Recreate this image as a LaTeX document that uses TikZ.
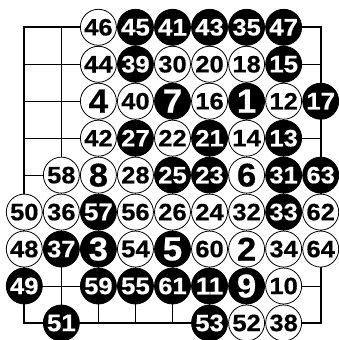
\documentclass[tikz,border=0pt]{standalone}
\usepackage{fontspec}
\setmainfont{Liberation Sans}
\newfontfamily\stonefont{Liberation Sans}[BoldFeatures={FakeBold=0.5}]
\newcommand\stonenum[1]{\stonefont\bfseries\ifnum#1<10 \scalebox{1.05}[1]{\resizebox{!}{23pt}{#1}}\else\scalebox{1.08}[1]{\resizebox{!}{16.5pt}{#1}}\fi}
\begin{document}
\begin{tikzpicture}[x=1pt,y=-1pt,
  stone/.style={circle, minimum size=36pt, inner sep=0pt, line width=0.8pt, draw=black},
  bst/.style={stone, fill=black, text=white},
  wst/.style={stone, fill=white, text=black},
  gridline/.style={line width=0.8pt, black},
  border/.style={line width=1.8pt, black}]
\useasboundingbox (0,0) rectangle (338,340);
\begin{scope}[shift={(24.3pt,-27.3pt)}, x=37.05pt, y=-36.96pt]
  \foreach \i in {1,...,7} {
    \draw[gridline] (\i,0) -- (\i,8);
    \draw[gridline] (0,\i) -- (8,\i);
  }
  \draw[border] (0,0) rectangle (8,8);
  \foreach \c/\r/\n/\t in {
    2/0/46/wst, 3/0/45/bst, 4/0/41/bst, 5/0/43/bst, 6/0/35/bst, 7/0/47/bst,
    2/1/44/wst, 3/1/39/bst, 4/1/30/wst, 5/1/20/wst, 6/1/18/wst, 7/1/15/bst,
    2/2/4/wst, 3/2/40/wst, 4/2/7/bst, 5/2/16/wst, 6/2/1/bst, 7/2/12/wst, 8/2/17/bst,
    2/3/42/wst, 3/3/27/bst, 4/3/22/wst, 5/3/21/bst, 6/3/14/wst, 7/3/13/bst,
    1/4/58/wst, 2/4/8/wst, 3/4/28/wst, 4/4/25/bst, 5/4/23/bst, 6/4/6/wst, 7/4/31/bst, 8/4/63/bst,
    0/5/50/wst, 1/5/36/wst, 2/5/57/bst, 3/5/56/wst, 4/5/26/wst, 5/5/24/wst, 6/5/32/wst, 7/5/33/bst, 8/5/62/wst,
    0/6/48/wst, 1/6/37/bst, 2/6/3/bst, 3/6/54/wst, 4/6/5/bst, 5/6/60/wst, 6/6/2/wst, 7/6/34/wst, 8/6/64/wst,
    0/7/49/bst, 2/7/59/bst, 3/7/55/bst, 4/7/61/bst, 5/7/11/bst, 6/7/9/bst, 7/7/10/wst,
    1/8/51/bst, 5/8/53/bst, 6/8/52/wst, 7/8/38/wst} {
    \node[\t] (s\n) at (\c,\r) {\stonenum{\n}};
  }
\end{scope}
\end{tikzpicture}
\end{document}
